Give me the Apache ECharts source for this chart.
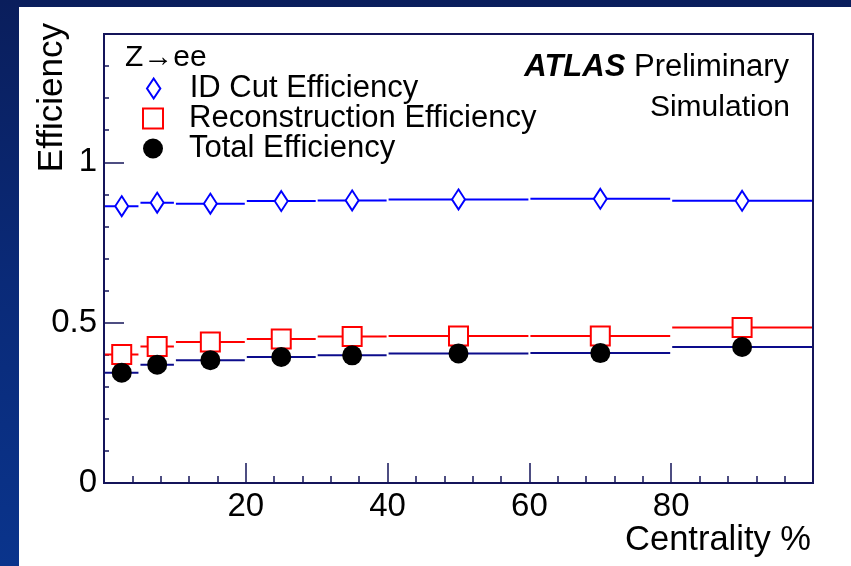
<!DOCTYPE html>
<html>
<head>
<meta charset="utf-8">
<script src="https://cdn.jsdelivr.net/npm/echarts@6/dist/echarts.min.js"></script>
<style>
  html, body { margin: 0; padding: 0; }
  #chart { width: 851px; height: 566px; background: linear-gradient(to bottom, #0a1e5c 0%, #0a2a78 50%, #0a348c 100%); }
</style>
</head>
<body>
<div id="chart"></div>
<script>
// ---- data ----
const binLow    = [0, 5, 10, 20, 30, 40, 60, 80];
const binHigh   = [5, 10, 20, 30, 40, 60, 80, 100];
const binCenter = [2.5, 7.5, 15, 25, 35, 50, 70, 90];
const idCutEff  = [0.863, 0.874, 0.871, 0.879, 0.881, 0.884, 0.886, 0.880];
const recoEff   = [0.401, 0.426, 0.440, 0.449, 0.457, 0.458, 0.458, 0.485];
const totalEff  = [0.344, 0.369, 0.383, 0.393, 0.398, 0.404, 0.405, 0.424];
const xTickLabels = ['20', '40', '60', '80'];
const yTickLabels = ['0', '0.5', '1'];
const seriesNames = ['ID Cut Efficiency', 'Reconstruction Efficiency', 'Total Efficiency'];

const FONT = '"Liberation Sans", Arial, Helvetica, sans-serif';
const AXIS_COLOR = '#14145a';

function points(vals) { return binCenter.map((x, i) => [x, vals[i]]); }
function bins(vals) { return binLow.map((lo, i) => [lo, binHigh[i], vals[i]]); }

function binLines(name, vals, color) {
  return {
    type: 'custom',
    name: name,
    z: 2,
    clip: true,
    silent: true,
    encode: { x: [0, 1], y: 2 },
    data: bins(vals),
    renderItem: function (params, api) {
      const p1 = api.coord([api.value(0), api.value(2)]);
      const p2 = api.coord([api.value(1), api.value(2)]);
      return {
        type: 'line',
        shape: { x1: p1[0] + 1, y1: p1[1], x2: p2[0] - 1, y2: p2[1] },
        style: { stroke: color, lineWidth: 2 }
      };
    }
  };
}

function legendFor(name, left, top, icon, itemStyle) {
  return {
    data: [name],
    orient: 'vertical',
    left: left,
    top: top,
    padding: 0,
    itemWidth: 62,
    itemHeight: 20,
    icon: icon,
    symbolKeepAspect: true,
    selectedMode: false,
    itemStyle: itemStyle,
    textStyle: { fontFamily: FONT, fontSize: 31, color: '#000' }
  };
}

const chart = echarts.init(document.getElementById('chart'), null, { renderer: 'canvas' });

const option = {
  backgroundColor: 'transparent',
  animation: false,
  grid: {
    left: 104, right: 38, top: 34, bottom: 83,
    show: true, borderColor: AXIS_COLOR, borderWidth: 2, backgroundColor: 'transparent'
  },
  xAxis: {
    type: 'value', min: 0, max: 100, interval: 20,
    axisLine: { show: true, lineStyle: { color: AXIS_COLOR, width: 2 } },
    axisTick: { show: true, inside: true, length: 20, lineStyle: { color: AXIS_COLOR, width: 1.5 } },
    minorTick: { show: true, splitNumber: 5, length: 7, lineStyle: { color: AXIS_COLOR, width: 1.5 } },
    splitLine: { show: false },
    axisLabel: {
      margin: 7,
      fontFamily: FONT, fontSize: 33, color: '#000',
      formatter: function (v) { const s = String(v); return xTickLabels.indexOf(s) >= 0 ? s : ''; }
    }
  },
  yAxis: [
    {
      type: 'value', min: 0, max: 1.4, interval: 0.1, position: 'left',
      axisLine: { show: true, lineStyle: { color: AXIS_COLOR, width: 2 } },
      axisTick: { show: true, inside: true, length: 5, lineStyle: { color: AXIS_COLOR, width: 1.5 } },
      axisLabel: { show: false },
      splitLine: { show: false }
    },
    {
      type: 'value', min: 0, max: 1.4, interval: 0.5, position: 'left', offset: 0,
      axisLine: { show: false },
      axisTick: { show: true, inside: true, length: 20, lineStyle: { color: AXIS_COLOR, width: 1.5 } },
      axisLabel: {
        margin: 7,
        padding: [6, 0, 0, 0],
        fontFamily: FONT, fontSize: 33, color: '#000',
        formatter: function (v) { const s = String(v); return yTickLabels.indexOf(s) >= 0 ? s : ''; }
      },
      splitLine: { show: false }
    }
  ],
  legend: [
    legendFor(seriesNames[0], 146, 73, 'path://M6,0L12,9L6,18L0,9Z', { color: '#fff', borderColor: '#0000ff', borderWidth: 2 }),
    legendFor(seriesNames[1], 142, 103, 'path://M0,0H18V18H0Z', { color: '#fff', borderColor: '#ff0000', borderWidth: 2 }),
    legendFor(seriesNames[2], 143, 133, 'path://M10,0A10,10,0,1,1,10,20A10,10,0,1,1,10,0Z', { color: '#000', borderColor: '#000', borderWidth: 0 })
  ],
  graphic: {
    elements: [
      { type: 'rect', left: 19, top: 7, z: -100, silent: true,
        shape: { width: 840, height: 570 }, style: { fill: '#ffffff' } },
      { type: 'text', x: 125, y: 58, silent: true,
        style: { text: 'Z\u2192ee', font: '30px ' + FONT, fill: '#000', align: 'left', verticalAlign: 'middle' } },
      { type: 'text', x: 789, y: 67, silent: true,
        style: {
          text: '{b|ATLAS} Preliminary',
          align: 'right', verticalAlign: 'middle',
          font: '31px ' + FONT, fill: '#000',
          rich: { b: { fontFamily: FONT, fontSize: 31, fontWeight: 'bold', fontStyle: 'italic', fill: '#000' } }
        } },
      { type: 'text', x: 790, y: 108, silent: true,
        style: { text: 'Simulation', font: '30px ' + FONT, fill: '#000', align: 'right', verticalAlign: 'middle' } },
      { type: 'text', x: 52, y: 23, rotation: Math.PI / 2, silent: true,
        style: { text: 'Efficiency', font: '35px ' + FONT, fill: '#000', align: 'right', verticalAlign: 'middle' } },
      { type: 'text', x: 811, y: 540, silent: true,
        style: { text: 'Centrality %', font: '34.5px ' + FONT, fill: '#000', align: 'right', verticalAlign: 'middle' } }
    ]
  },
  series: [
    binLines('ID bins', idCutEff, '#0000ff'),
    binLines('Reco bins', recoEff, '#ff0000'),
    binLines('Total bins', totalEff, '#0c0c8c'),
    {
      type: 'scatter', name: seriesNames[0], z: 3, data: points(idCutEff),
      symbol: 'diamond', symbolSize: [13, 20],
      itemStyle: { color: '#fff', borderColor: '#0000ff', borderWidth: 2, opacity: 1 }
    },
    {
      type: 'scatter', name: seriesNames[1], z: 3, data: points(recoEff),
      symbol: 'rect', symbolSize: [19, 19],
      itemStyle: { color: '#fff', borderColor: '#ff0000', borderWidth: 2, opacity: 1 }
    },
    {
      type: 'scatter', name: seriesNames[2], z: 4, data: points(totalEff),
      symbol: 'circle', symbolSize: 20,
      itemStyle: { color: '#000', borderWidth: 0, opacity: 1 }
    }
  ]
};

chart.setOption(option);
</script>
</body>
</html>
